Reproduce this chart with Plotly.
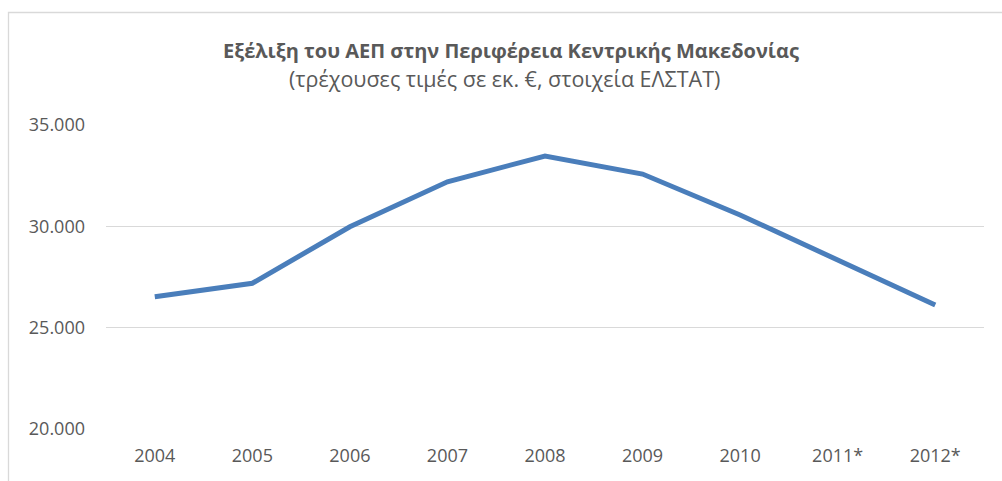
import plotly.graph_objects as go

years = ["2004", "2005", "2006", "2007", "2008", "2009", "2010", "2011*", "2012*"]
gdp = [26530, 27190, 29980, 32200, 33470, 32580, 30560, 28340, 26120]
y_ticks = [20000, 25000, 30000, 35000]
y_tick_labels = ["20.000", "25.000", "30.000", "35.000"]

title_text = "Εξέλιξη του ΑΕΠ στην Περιφέρεια Κεντρικής Μακεδονίας"
subtitle_text = "(τρέχουσες τιμές σε εκ. €, στοιχεία ΕΛΣΤΑΤ)"

FONT = "Open Sans"
GREY = "#595959"

W, H = 1002, 481
PL, PR, PT, PB = 106, 984, 125, 429
pw, ph = PR - PL, PB - PT


def px(x):
    return (x - PL) / pw


def py(y):
    return (PB - y) / ph


fig = go.Figure()
fig.add_trace(go.Scatter(
    x=years, y=gdp, mode="lines",
    line=dict(color="#4A7EBB", width=5),
    hoverinfo="x+y",
))

fig.update_layout(
    width=W, height=H,
    margin=dict(l=PL, r=W - PR, t=PT, b=H - PB),
    paper_bgcolor="white", plot_bgcolor="white",
    showlegend=False,
    font=dict(family=FONT, color=GREY, size=18),
    xaxis=dict(
        type="category", range=[-0.5, 8.5],
        showgrid=False, zeroline=False, showline=False,
        ticks="", tickfont=dict(size=18, color=GREY),
        ticklabelstandoff=14,
    ),
    yaxis=dict(
        range=[20000, 35000], tickvals=y_ticks, ticktext=y_tick_labels,
        showgrid=True, gridcolor="#D9D9D9", gridwidth=1.3,
        zeroline=False, showline=False, ticks="",
        tickfont=dict(size=18, color=GREY),
        ticklabelstandoff=20,
    ),
    shapes=[dict(
        type="rect", xref="paper", yref="paper",
        x0=px(8.5), x1=px(1020),
        y0=py(500), y1=py(12.5),
        line=dict(color="#D9D9D9", width=1.3), fillcolor="rgba(0,0,0,0)",
        layer="below",
    )],
    annotations=[
        dict(text="<b>" + title_text + "</b>", xref="paper", yref="paper",
             x=px(511), y=py(50),
             xanchor="center", yanchor="middle", showarrow=False,
             font=dict(family=FONT, size=20, color=GREY)),
        dict(text=subtitle_text, xref="paper", yref="paper",
             x=px(504), y=py(79),
             xanchor="center", yanchor="middle", showarrow=False,
             font=dict(family=FONT, size=21.5, color=GREY)),
    ],
)

fig.write_html(
    "out.html",
    config={"displayModeBar": False},
    post_script="document.body.style.margin='0px';document.body.style.overflow='hidden';",
)
